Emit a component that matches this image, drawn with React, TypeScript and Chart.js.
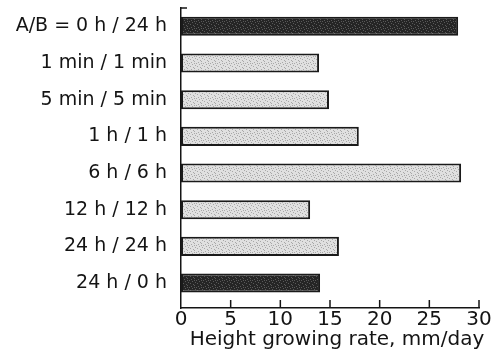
import React, { useEffect, useRef } from 'react';
import { Chart, registerables } from 'chart.js';

Chart.register(...registerables);

const categories = [
  'A/B = 0 h / 24 h',
  '1 min / 1 min',
  '5 min / 5 min',
  '1 h / 1 h',
  '6 h / 6 h',
  '12 h / 12 h',
  '24 h / 24 h',
  '24 h / 0 h',
];
const growthRates = [27.9, 13.9, 14.9, 17.9, 28.2, 13.0, 15.9, 14.0];
const isControl = [true, false, false, false, false, false, false, true];
const xTickValues = [0, 5, 10, 15, 20, 25, 30];
const xTitle = 'Height growing rate, mm/day';

const FONT = '"DejaVu Sans", "Liberation Sans", sans-serif';
const INK = '#141414';

function makeStipple(base: string, dot: string, dots: number[][]): CanvasPattern | string {
  const c = document.createElement('canvas');
  c.width = 7;
  c.height = 7;
  const g = c.getContext('2d');
  if (!g) return base;
  g.fillStyle = base;
  g.fillRect(0, 0, 7, 7);
  g.fillStyle = dot;
  dots.forEach(([x, y]) => g.fillRect(x, y, 1, 1));
  const p = g.createPattern(c, 'repeat');
  return p || base;
}

const axisDecor = {
  id: 'axisDecor',
  afterDraw(chart: any) {
    const { ctx, chartArea, scales } = chart;
    const x = scales.x;
    ctx.save();
    ctx.strokeStyle = INK;
    ctx.lineWidth = 1.5;
    xTickValues.forEach((v) => {
      if (v === 0) return;
      const px = x.getPixelForValue(v);
      ctx.beginPath();
      ctx.moveTo(px, chartArea.bottom);
      ctx.lineTo(px, chartArea.bottom - 8);
      ctx.stroke();
    });
    ctx.beginPath();
    ctx.moveTo(chartArea.left, chartArea.top);
    ctx.lineTo(chartArea.left + 6, chartArea.top);
    ctx.stroke();
    ctx.fillStyle = INK;
    ctx.font = '20px ' + FONT;
    ctx.textAlign = 'center';
    ctx.textBaseline = 'alphabetic';
    ctx.fillText(xTitle, (chartArea.left + chartArea.right) / 2 + 7, chart.height - 6);
    ctx.restore();
  },
};

export default function App() {
  const ref = useRef<HTMLCanvasElement | null>(null);

  useEffect(() => {
    const canvas = ref.current;
    if (!canvas) return;
    const dots = [[0, 0], [3, 1], [6, 2], [1, 3], [4, 4], [2, 6], [5, 5], [5, 0]];
    const dark = makeStipple('#252525', '#595959', dots);
    const light = makeStipple('#e0e0e0', '#a8a8a8', dots);

    const chart = new Chart(canvas, {
      type: 'bar',
      data: {
        datasets: [
          {
            data: growthRates.map((v, i) => ({ x: v, y: i })) as any,
            backgroundColor: isControl.map((c) => (c ? dark : light)) as any,
            borderColor: '#1a1a1a',
            borderWidth: 2,
            borderSkipped: false,
            categoryPercentage: 1,
            barPercentage: 0.52,
          },
        ],
      },
      options: {
        indexAxis: 'y',
        responsive: false,
        animation: false,
        layout: { padding: { top: 8, right: 25, left: 0, bottom: 0 } },
        plugins: { legend: { display: false }, tooltip: { enabled: false } },
        scales: {
          x: {
            type: 'linear',
            min: 0,
            max: 30,
            afterBuildTicks: (scale: any) => {
              scale.ticks = xTickValues.map((v) => ({ value: v }));
            },
            afterFit: (scale: any) => {
              scale.height = 43;
            },
            grid: { display: false },
            border: { display: true, color: INK, width: 1.5 },
            ticks: {
              color: INK,
              font: { family: FONT, size: 20 },
              padding: -8,
              maxRotation: 0,
            },
          },
          y: {
            type: 'linear',
            reverse: true,
            offset: false,
            min: -0.5,
            max: 7.68,
            afterBuildTicks: (scale: any) => {
              scale.ticks = categories.map((_, i) => ({ value: i }));
            },
            afterFit: (scale: any) => {
              scale.width = 181;
              scale.paddingTop = 0;
              scale.paddingBottom = 0;
            },
            grid: { display: false },
            border: { display: true, color: INK, width: 1.5 },
            ticks: {
              color: INK,
              font: { family: FONT, size: 19 },
              padding: 6,
              callback: (v: any) => categories[v as number] ?? '',
            },
          },
        },
      },
      plugins: [axisDecor],
    });
    return () => chart.destroy();
  }, []);

  return (
    <div style={{ position: 'fixed', left: 0, top: 0, width: 504, height: 351, background: '#fff' }}>
      <canvas ref={ref} width={504} height={351} />
    </div>
  );
}
